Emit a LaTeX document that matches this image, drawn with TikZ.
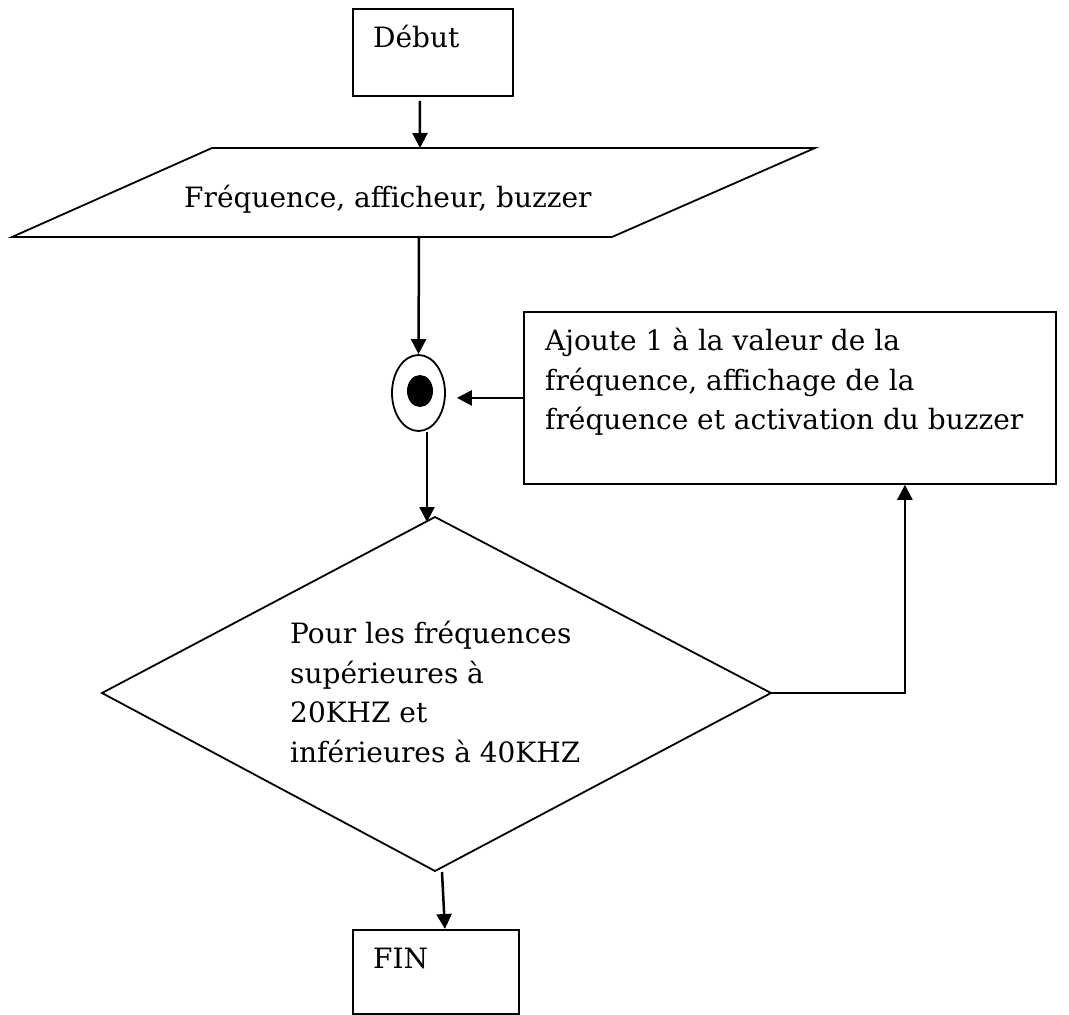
\documentclass[tikz,border=0pt]{standalone}
\usepackage{fontspec}
\setmainfont{DejaVu Serif}
\usetikzlibrary{arrows.meta,shapes.geometric}
\tikzset{
  shape line/.style={draw=black, line width=1.8pt},
  boxnode/.style={shape line, rectangle, anchor=north west, inner sep=0pt},
  arr/.style={line width=2.5pt, -{Triangle[length=15pt,width=15pt]}},
  txt/.style={inner sep=0pt, anchor=base west, font=\fontsize{28}{39.5}\selectfont},
}
\begin{document}
\begin{tikzpicture}[x=1pt,y=-1pt]
\useasboundingbox (0,0) rectangle (1069,1015);
% Start box
\node[boxnode, minimum width=160pt, minimum height=87pt] (debut) at (352,8) {};
\node[txt] (debuttxt) at (373,47) {Début};
% Parallelogram (input)
\coordinate (p1) at (212,148);
\coordinate (p2) at (815,148);
\coordinate (p3) at (612,237);
\coordinate (p4) at (12,237);
\coordinate (pT) at (420,148);
\coordinate (pB) at (419,237);
\draw[shape line] (p1) -- (p2) -- (p3) -- (p4) -- cycle;
\node[txt] (paratxt) at (184,207) {Fréquence, afficheur, buzzer};
% Junction
\node[shape line, ellipse, minimum width=53pt, minimum height=76pt, inner sep=0pt] (junc) at (418.5,393) {};
\node[ellipse, fill=black, minimum width=26pt, minimum height=32pt, inner sep=0pt] (juncdot) at (420,391) {};
% Action box
\node[boxnode, minimum width=532pt, minimum height=172pt] (act) at (523,311) {};
\node[txt, align=left, anchor=north west] (acttxt) at (545,328) {Ajoute 1 à la valeur de la\\fréquence, affichage de la\\fréquence et activation du buzzer};
% Decision diamond
\coordinate (dT) at (435,517);
\coordinate (dR) at (771,693);
\coordinate (dB) at (435,871);
\coordinate (dL) at (102,693);
\draw[shape line] (dT) -- (dR) -- (dB) -- (dL) -- cycle;
\node[txt, align=left, anchor=north west] (dectxt) at (290,621) {Pour les fréquences\\supérieures à\\20KHZ et\\inférieures à 40KHZ};
% End box
\node[boxnode, minimum width=166pt, minimum height=84pt] (fin) at (352,929) {};
\node[txt] (fintxt) at (373,968) {FIN};
% Connectors
\draw[arr] ([xshift=-13pt,yshift=-4pt]debut.south) -- (pT);
\draw[arr] (pB) -- (junc.north);
\draw[arr] (act.west) -- ([xshift=11pt]junc.east |- act.west);
\draw[arr] ([xshift=8.5pt]junc.south) -- ([xshift=-8pt,yshift=-5pt]dT);
\draw[arr] (dR) -| ([xshift=115pt]act.south);
\draw[arr] ([xshift=7pt,yshift=-1pt]dB) -- ([xshift=9pt]fin.north);
\end{tikzpicture}
\end{document}
